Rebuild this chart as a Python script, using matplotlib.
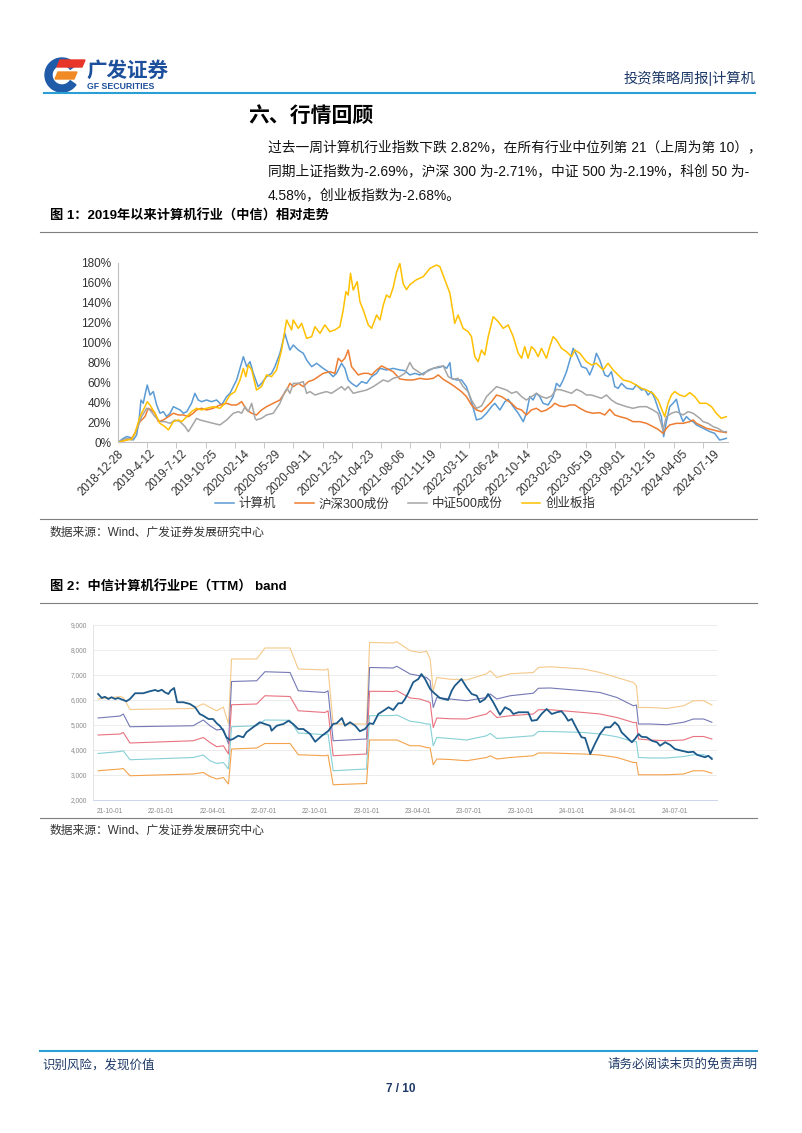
import matplotlib
matplotlib.use('Agg')
import matplotlib.pyplot as plt
import matplotlib.patches as mpatches
from matplotlib.ticker import FuncFormatter

plt.rcParams['font.family'] = ['Liberation Sans', 'Noto Sans CJK SC']
plt.rcParams['axes.unicode_minus'] = False

W, H = 802, 1133

# ---------------- chart 1 data (weekly index, % change since 2018-12-28) ----------------
date_labels = ['2018-12-28', '2019-4-12', '2019-7-12', '2019-10-25', '2020-02-14', '2020-05-29',
               '2020-09-11', '2020-12-31', '2021-04-23', '2021-08-06', '2021-11-19', '2022-03-11',
               '2022-06-24', '2022-10-14', '2023-02-03', '2023-05-19', '2023-09-01', '2023-12-15',
               '2024-04-05', '2024-07-19']

blue_x = [0, 2.6, 4.1, 5.7, 7.3, 8.9, 10.0, 11.0, 12.1, 12.9,
          14.0, 15.3, 16.9, 18.5, 20.1, 21.7, 23.3, 24.9, 26.5, 28.1,
          29.7, 31.3, 32.9, 35.2, 36.8, 38.4, 40.0, 42.4, 44.8, 47.2,
          49.6, 52.0, 53.6, 55.2, 56.8, 60.0, 61.6, 63.2, 64.8, 67.1,
          68.7, 71.1, 73.5, 75.1, 77.5, 79.9, 81.0, 82.3, 83.9, 86.3,
          88.7, 90.3, 92.7, 95.1, 98.2, 100.6, 103.0, 104.6, 107.0, 108.6,
          110.2, 111.8, 114.2, 116.6, 119.0, 121.4, 123.8, 125.4, 128.5, 131.7,
          134.9, 137.3, 139.7, 142.1, 144.5, 147.7, 150.9, 154.1, 155.7, 157.3,
          158.9, 159.7, 162.0, 164.4, 166.8, 169.2, 171.6, 174.0, 176.4, 178.8,
          180.4, 182.8, 185.2, 186.8, 189.2, 191.6, 194.0, 195.5, 197.1, 198.7,
          200.3, 201.9, 203.5, 205.9, 208.3, 209.9, 211.5, 213.1, 214.7, 216.3,
          217.9, 219.5, 221.9, 224.2, 225.8, 227.4, 229.0, 230.6, 233.0, 234.6,
          236.2, 237.8, 239.4, 241.0, 243.4, 246.5, 248.1, 250.6, 252.2, 253.7,
          255.3, 256.9, 258.5, 260.1, 261.2, 262.5, 264.1, 265.7, 267.3, 268.9,
          270.5, 272.1, 273.7, 275.3, 276.9, 278.5, 280.1, 281.7, 283.3, 285.6,
          288.0, 289.6, 291.2]
blue_v = [0, 4, 5.7, 5, 2.3, 7.3, 20.7, 42.4, 39.1, 47.4,
          57.4, 47.4, 50.8, 37.4, 29.1, 30.7, 25.7, 29.1, 35.7, 34.1,
          32.4, 29.1, 30.7, 39.1, 49.1, 42.4, 40.7, 42.4, 40.7, 42.4,
          37.4, 45.8, 49.1, 55.8, 62.5, 85.8, 75.8, 80.8, 69.1, 55.8,
          59.1, 65.8, 69.1, 75.8, 89.2, 109.2, 100.9, 92.5, 97.5, 92.5,
          89.2, 82.5, 75.8, 79.2, 74.1, 70.8, 65.8, 69.1, 79.2, 74.1,
          62.5, 59.1, 55.8, 60.8, 59.1, 65.8, 69.1, 74.1, 72.5, 74.1,
          72.5, 71.8, 67.5, 69.1, 67.5, 70.8, 74.1, 75.2, 76.5, 74.1,
          79.8, 64.1, 62.5, 62.5, 55.8, 40.7, 22.4, 24, 29.1, 35.7,
          39.1, 32.4, 40.7, 43.1, 35.7, 29.1, 20.7, 29.1, 45.8, 42.4,
          49.1, 45.8, 39.1, 37.4, 45.8, 59.1, 55.8, 62.5, 70.8, 82.5,
          94.2, 87.5, 75.8, 74.1, 67.5, 75.8, 89.2, 82.5, 67.5, 65.8,
          70.8, 55.8, 54.1, 59.1, 54.1, 53.1, 57.4, 52.4, 53.1, 47.4,
          50.8, 44.1, 34.1, 25.7, 5.7, 20.7, 35.7, 39.1, 43.1, 29.1,
          20.7, 25.7, 22.4, 20.7, 17.4, 15.7, 14, 12.4, 10.7, 9,
          2.3, 3, 4]

orange_x = [0, 4.1, 6.5, 8.1, 10.5, 12.9, 14.5, 16.1, 17.7, 19.3,
            21.7, 24.1, 26.5, 28.9, 31.3, 33.7, 36.0, 37.6, 40.0, 42.4,
            45.6, 48.8, 52.0, 54.4, 56.8, 59.2, 61.6, 64.0, 66.3, 68.7,
            71.1, 74.3, 77.5, 80.7, 82.3, 83.9, 86.3, 88.7, 91.1, 93.5,
            95.9, 98.2, 101.4, 103.8, 105.4, 107.0, 108.6, 110.2, 111.8, 115.0,
            117.4, 119.8, 121.4, 123.8, 126.2, 128.5, 131.7, 134.9, 138.1, 141.3,
            144.5, 147.7, 150.9, 153.3, 155.7, 158.9, 161.2, 164.4, 166.8, 169.2,
            171.6, 174.0, 176.4, 178.8, 181.2, 183.6, 186.0, 188.4, 190.8, 193.2,
            195.5, 197.9, 200.3, 202.7, 205.1, 207.5, 209.1, 211.5, 213.9, 216.3,
            218.7, 221.1, 224.2, 227.4, 230.6, 233.0, 235.4, 237.8, 240.2, 243.4,
            246.5, 249.8, 253.0, 256.1, 258.5, 260.9, 262.5, 264.1, 267.3, 270.5,
            273.7, 275.3, 276.9, 278.5, 281.7, 284.9, 288.0, 291.2]
orange_v = [0, 2.3, 4, 9, 20.7, 25.7, 34.1, 32.4, 29.1, 20.7,
            22.4, 25.7, 29.1, 27.4, 27.4, 25.7, 29.1, 32.4, 34.1, 32.4,
            34.1, 37.4, 39.1, 37.4, 37.4, 40.7, 32.4, 29.1, 27.4, 32.4,
            35.7, 39.1, 42.4, 52.4, 59.1, 55.8, 59.1, 55.8, 60.8, 62.5,
            65.8, 69.1, 70.8, 69.1, 84.2, 80.8, 84.2, 92.5, 75.8, 67.5,
            69.1, 69.1, 67.5, 72.5, 76.5, 74.1, 70.8, 63.5, 62.5, 62.5,
            64.1, 63.1, 64.1, 67.5, 63.1, 59.1, 55.8, 50.8, 45.8, 37.4,
            32.4, 30.7, 35.7, 40.7, 47.4, 45.8, 42.4, 39.1, 34.1, 32.4,
            27.4, 32.4, 34.1, 30.7, 32.4, 35.7, 39.1, 36.4, 35.7, 37.4,
            37.4, 34.1, 30.7, 29.1, 29.7, 27.4, 33.1, 27.4, 25.7, 24,
            20.7, 20.7, 19, 15.7, 13, 9, 14, 17.4, 19, 19,
            20.7, 22.4, 19, 17.4, 14, 12.4, 10.7, 9.7]

gray_x = [0, 4.1, 6.5, 8.9, 11.3, 13.7, 15.3, 17.7, 20.1, 22.5,
          24.9, 27.3, 29.7, 32.1, 33.7, 35.2, 37.6, 39.2, 42.4, 45.6,
          48.8, 52.0, 55.2, 57.6, 59.2, 60.8, 62.4, 64.0, 65.6, 66.3,
          68.7, 71.1, 74.3, 77.5, 79.9, 81.0, 82.3, 83.9, 86.3, 88.7,
          90.3, 91.9, 94.3, 96.7, 99.8, 102.2, 104.6, 107.0, 108.6, 110.2,
          112.6, 115.8, 119.0, 122.2, 124.6, 127.0, 129.3, 131.7, 134.9, 137.3,
          139.7, 141.3, 143.7, 146.1, 148.5, 150.9, 153.3, 155.7, 158.1, 160.5,
          162.8, 165.2, 167.6, 169.2, 171.6, 174.0, 176.4, 178.8, 181.2, 183.6,
          186.0, 188.4, 190.8, 193.2, 195.5, 197.9, 200.3, 202.7, 205.1, 207.5,
          209.9, 212.3, 214.7, 217.1, 219.5, 221.9, 224.2, 226.6, 229.0, 231.4,
          233.8, 236.2, 238.6, 241.0, 243.4, 246.5, 249.8, 253.0, 256.1, 258.5,
          260.9, 262.5, 264.9, 267.3, 270.5, 272.9, 275.3, 278.5, 280.1, 282.5,
          284.9, 287.2, 289.6, 291.2]
gray_v = [0, 4, 2.3, 12.4, 25.7, 34.1, 32.4, 25.7, 20.7, 20.7,
          19, 22.4, 20.7, 15.7, 10.7, 15.7, 24, 22.4, 20.7, 19,
          17.4, 22.4, 29.1, 30.7, 29.1, 35.7, 30.7, 39.1, 24, 22.4,
          24, 27.4, 29.1, 39.1, 50.8, 54.1, 49.1, 59.1, 59.1, 60.8,
          49.1, 50.8, 47.4, 49.1, 50.8, 49.1, 52.4, 55.8, 52.4, 55.8,
          49.1, 50.8, 52.4, 55.8, 59.1, 62.5, 60.8, 64.1, 66, 69.1,
          80, 74.1, 70.8, 67.5, 72.5, 74.1, 75.8, 76.5, 65.8, 63.1,
          64.1, 55.8, 50.8, 42.4, 34.1, 36.4, 45.8, 50.8, 55.8, 54.1,
          52.4, 49.1, 50.8, 45.8, 42.4, 45.8, 49.1, 45.8, 44.1, 46.4,
          53.1, 52.4, 50.8, 49.1, 53.1, 50.8, 47.4, 47.4, 45.8, 44.1,
          47.4, 42.4, 39.1, 37.4, 35.7, 34.1, 35.7, 35.7, 32.4, 29.1,
          12.4, 25.7, 29.1, 30.7, 27.4, 30.7, 29.1, 24, 20.7, 19,
          15.7, 14, 10.7, 10.7]

yellow_x = [0, 4.1, 6.5, 8.1, 10.5, 12.9, 14.0, 15.3, 17.7, 20.1,
            22.5, 24.1, 26.5, 28.9, 30.5, 32.9, 35.2, 37.6, 40.0, 42.4,
            45.6, 48.8, 51.2, 53.6, 56.0, 58.4, 60.0, 61.2, 62.4, 64.0,
            66.3, 68.7, 71.1, 73.5, 75.9, 78.3, 80.7, 83.1, 83.9, 86.3,
            87.9, 90.3, 92.7, 94.3, 96.7, 99.0, 101.4, 103.8, 106.2, 107.8,
            109.1, 110.2, 111.3, 112.6, 114.5, 115.8, 117.4, 119.8, 121.4, 123.8,
            125.4, 127.0, 128.5, 130.1, 131.7, 133.3, 134.9, 136.5, 138.1, 139.7,
            142.9, 146.1, 149.3, 150.9, 152.5, 154.1, 156.5, 158.9, 161.2, 162.8,
            165.2, 167.6, 169.2, 170.8, 172.4, 174.0, 175.6, 177.2, 179.6, 182.0,
            184.4, 186.8, 189.2, 191.6, 193.2, 194.7, 196.3, 197.9, 199.5, 201.1,
            202.7, 205.1, 206.7, 208.3, 209.9, 212.3, 214.7, 217.1, 218.7, 221.1,
            224.2, 226.6, 229.0, 232.2, 234.6, 237.0, 239.4, 241.8, 245.0, 248.1,
            250.6, 253.0, 256.1, 258.5, 260.1, 261.7, 263.3, 264.9, 266.5, 268.9,
            271.3, 273.7, 276.1, 278.5, 281.7, 284.1, 286.4, 288.8, 291.2]
yellow_v = [0, 2.3, 3, 9, 25.7, 35.7, 40.7, 37.4, 29.1, 19,
            15.7, 12.4, 20.7, 22.4, 20.7, 25.7, 30.7, 34.1, 32.4, 34.1,
            35.7, 34.1, 39.1, 47.4, 50.8, 62.5, 74.1, 65.8, 77.5, 72.5,
            52.4, 55.8, 67.5, 65.8, 72.5, 92.5, 122.6, 112.6, 122.6, 114.2,
            119.2, 104.2, 105.9, 115.9, 109.2, 117.6, 110.9, 112.6, 115.9, 132.6,
            151, 147.6, 169.3, 152.6, 161, 141, 132.6, 117.6, 114.2, 127.6,
            122.6, 137.6, 147.6, 145, 155, 170, 179.4, 159, 153, 158,
            163, 166, 174.3, 176, 177.7, 176, 162.7, 149.3, 119.2, 127.6,
            114.2, 110.9, 105.9, 85.8, 80.8, 92.5, 87.5, 105.9, 125.9, 120.9,
            114.2, 117.6, 105.9, 89.2, 84.2, 95.9, 84.2, 95.9, 92.5, 85.8,
            94.2, 84.2, 95.9, 105.9, 102.5, 94.2, 90.8, 85.8, 92.5, 89.2,
            80.8, 77.5, 79.2, 72.5, 79.2, 72.5, 67.5, 62.5, 60.8, 57.4,
            54.1, 52.4, 49.1, 42.4, 34.1, 25.7, 39.1, 47.4, 50.8, 47.4,
            45.8, 49.8, 45.8, 39.1, 39.1, 35.7, 29.1, 24, 25.7]

# ---------------- chart 2 data (quarter index, 0 = 21-10-01) ----------------
quarter_labels = ['21-10-01', '22-01-01', '22-04-01', '22-07-01', '22-10-01', '23-01-01',
                  '23-04-01', '23-07-01', '23-10-01', '24-01-01', '24-04-01', '24-07-01']

band_x = [-0.23, 0.20, 0.26, 0.39, 1.62, 1.82, 1.95, 2.08, 2.21, 2.31,
          2.37, 2.86, 3.02, 3.51, 3.67, 4.19, 4.25, 4.35, 5.00, 5.06,
          5.52, 5.59, 5.85, 6.04, 6.17, 6.24, 6.30, 6.37, 6.63, 6.95,
          7.34, 7.41, 7.54, 7.80, 8.25, 8.35, 8.58, 9.23, 9.55, 9.88,
          10.20, 10.26, 10.30, 10.53, 10.85, 11.18, 11.37, 11.57, 11.73]
band_1 = [6040, 6140, 6100, 5620, 5660, 5850, 5700, 5570, 5720, 5050,
          7640, 7640, 8080, 8080, 7240, 7200, 7250, 5040, 5040, 8300,
          8280, 8330, 7970, 7900, 7950, 7640, 6370, 6900, 6830, 6800,
          7050, 7170, 6900, 7050, 7100, 7300, 7330, 7240, 7100, 6900,
          6700, 6570, 5700, 5700, 5660, 5770, 5970, 5970, 5800]
band_2 = [5280, 5360, 5440, 4930, 4970, 5200, 4970, 4800, 4840, 4240,
          6740, 6770, 7130, 7100, 6370, 6300, 6370, 4370, 4440, 7300,
          7280, 7350, 7040, 6970, 6900, 6770, 5700, 6100, 6040, 5970,
          6100, 6240, 6040, 6170, 6270, 6470, 6480, 6370, 6300, 6100,
          5770, 5800, 5040, 5040, 5010, 5110, 5240, 5240, 5110]
band_3 = [4600, 4640, 4700, 4280, 4370, 4500, 4300, 4130, 4170, 3840,
          5810, 5840, 6170, 6140, 5570, 5500, 5570, 3770, 3840, 6350,
          6340, 6370, 6080, 6040, 5950, 5900, 4900, 5280, 5250, 5240,
          5440, 5570, 5300, 5370, 5440, 5610, 5610, 5500, 5440, 5300,
          5100, 5100, 4440, 4400, 4370, 4400, 4540, 4540, 4440]
band_4 = [3860, 3940, 3970, 3610, 3700, 3800, 3570, 3460, 3500, 3240,
          4930, 4970, 5200, 5190, 4680, 4610, 4650, 3170, 3240, 5370,
          5380, 5400, 5150, 5100, 5040, 5040, 4170, 4500, 4460, 4400,
          4570, 4660, 4460, 4500, 4570, 4740, 4740, 4700, 4640, 4530,
          4330, 4330, 3700, 3680, 3680, 3740, 3810, 3810, 3700]
band_5 = [3170, 3240, 3260, 2970, 3040, 3100, 2940, 2840, 2900, 2640,
          4040, 4080, 4260, 4260, 3810, 3770, 3800, 2610, 2660, 4400,
          4400, 4400, 4170, 4170, 4100, 4080, 3410, 3640, 3620, 3570,
          3700, 3770, 3640, 3700, 3770, 3880, 3880, 3840, 3800, 3700,
          3500, 3500, 3010, 3010, 3010, 3040, 3170, 3170, 3070]

pe_x = [-0.23, -0.16, -0.10, -0.03, 0.03, 0.10, 0.16, 0.26, 0.32, 0.39,
        0.49, 0.65, 0.78, 0.88, 0.94, 1.01, 1.07, 1.14, 1.18, 1.25,
        1.31, 1.43, 1.56, 1.66, 1.75, 1.82, 1.92, 2.01, 2.08, 2.14,
        2.21, 2.27, 2.34, 2.40, 2.50, 2.60, 2.66, 2.79, 2.92, 3.02,
        3.12, 3.15, 3.25, 3.38, 3.48, 3.57, 3.67, 3.77, 3.90, 4.00,
        4.13, 4.26, 4.35, 4.42, 4.52, 4.58, 4.68, 4.78, 4.87, 4.97,
        5.06, 5.13, 5.23, 5.33, 5.43, 5.52, 5.62, 5.69, 5.75, 5.82,
        5.91, 6.01, 6.07, 6.14, 6.24, 6.30, 6.43, 6.59, 6.66, 6.72,
        6.85, 6.95, 7.05, 7.15, 7.21, 7.31, 7.37, 7.47, 7.60, 7.70,
        7.80, 7.86, 7.96, 8.15, 8.22, 8.32, 8.41, 8.51, 8.61, 8.71,
        8.80, 8.87, 8.93, 9.00, 9.10, 9.19, 9.26, 9.36, 9.45, 9.55,
        9.65, 9.75, 9.84, 9.91, 9.97, 10.07, 10.17, 10.23, 10.30, 10.36,
        10.46, 10.56, 10.66, 10.72, 10.82, 10.92, 11.01, 11.14, 11.27, 11.37,
        11.44, 11.53, 11.60, 11.66, 11.73]
pe_v = [6240, 6080, 6130, 6040, 6110, 6040, 6080, 6000, 5950, 6040,
        6270, 6270, 6350, 6400, 6350, 6410, 6310, 6240, 6370, 6480,
        5910, 5910, 5840, 5710, 5440, 5370, 5240, 5240, 5070, 4970,
        4770, 4510, 4400, 4440, 4570, 4510, 4710, 4910, 5110, 5040,
        4970, 4770, 4970, 5040, 5170, 5040, 4840, 4840, 4640, 4330,
        4570, 4770, 5040, 5070, 5280, 4970, 5110, 4970, 4750, 4840,
        5070, 5040, 5440, 5570, 5710, 5600, 5870, 5870, 6040, 6310,
        6710, 6840, 7040, 6840, 6440, 6310, 6080, 6000, 6370, 6570,
        6840, 6510, 6240, 6170, 5910, 6040, 6240, 5910, 5410, 5710,
        5600, 5440, 5510, 5510, 5170, 5200, 5440, 5640, 5440, 5510,
        5550, 5370, 5170, 5240, 4840, 4510, 4480, 3840, 4240, 4640,
        4910, 4910, 5110, 4970, 4710, 4510, 4310, 4440, 4640, 4530,
        4510, 4370, 4310, 4170, 4310, 4200, 4040, 3970, 3910, 3930,
        3810, 3750, 3710, 3770, 3640]

NAVY = '#1f3a68'
fig = plt.figure(figsize=(W / 100, H / 100), dpi=100)

# page layer in pixel coordinates
page = fig.add_axes([0, 0, 1, 1])
page.set_xlim(0, W)
page.set_ylim(H, 0)
page.axis('off')


def px_axes(l, t, r, b):
    return fig.add_axes([l / W, 1 - b / H, (r - l) / W, (b - t) / H])


# logo
page.add_patch(mpatches.Wedge((62, 75), 17, 35, 325, width=7, color='#1f5ba8'))
page.add_patch(mpatches.Polygon([(60, 60), (85, 60), (82, 67), (57, 67)], color='#e8352a'))
page.add_patch(mpatches.Polygon([(58, 72), (77, 72), (74, 79), (55, 79)], color='#f08a24'))
page.text(86, 71, '广发证券', fontsize=14.8, fontweight='bold', color='#1c4f9c', va='center', ha='left')
page.text(87, 86.5, 'GF SECURITIES', fontsize=6.3, fontweight='bold', color='#1c4f9c', va='center', ha='left')
page.text(755, 78, '投资策略周报|计算机', fontsize=10.3, color=NAVY, va='center', ha='right')
page.plot([44, 755], [93, 93], color='#2a9fd6', lw=1.5)

# section text
page.text(248, 116, '六、行情回顾', fontsize=15, fontweight='bold', va='center')
para = ['过去一周计算机行业指数下跌 2.82%，在所有行业中位列第 21（上周为第 10），',
        '同期上证指数为-2.69%，沪深 300 为-2.71%，中证 500 为-2.19%，科创 50 为-',
        '4.58%，创业板指数为-2.68%。']
for k, line in enumerate(para):
    page.text(268, 147 + 24 * k, line, fontsize=9.9, va='center', ha='left', color='#111111')

# figure captions and rules
page.text(50, 216, '图 1：2019年以来计算机行业（中信）相对走势', fontsize=9.5, fontweight='bold', va='center')
page.plot([40, 757], [232, 232], color='#7f7f7f', lw=0.8)
page.plot([40, 757], [519, 519], color='#7f7f7f', lw=0.8)
page.text(50, 533, '数据来源：Wind、广发证券发展研究中心', fontsize=8.5, color='#333333', va='center')

page.text(50, 587, '图 2：中信计算机行业PE（TTM） band', fontsize=9.5, fontweight='bold', va='center')
page.plot([40, 757], [603, 603], color='#7f7f7f', lw=0.8)
page.plot([40, 757], [818, 818], color='#7f7f7f', lw=0.8)
page.text(50, 831, '数据来源：Wind、广发证券发展研究中心', fontsize=8.5, color='#333333', va='center')

# footer
page.plot([40, 757], [1051, 1051], color='#2a9fd6', lw=1.5)
page.text(42, 1065, '识别风险，发现价值', fontsize=9, color=NAVY, va='center', ha='left')
page.text(757, 1065, '请务必阅读末页的免责声明', fontsize=9, color=NAVY, va='center', ha='right')
page.text(401, 1089, '7 / 10', fontsize=8.5, fontweight='bold', color=NAVY, va='center', ha='center')

# ---------------- chart 1 ----------------
ax1 = px_axes(118, 262.7, 728, 442.3)
ax1.plot(blue_x, blue_v, color='#5b9bd5', lw=1.1, label='计算机')
ax1.plot(orange_x, orange_v, color='#ed7d31', lw=1.1, label='沪深300成份')
ax1.plot(gray_x, gray_v, color='#a5a5a5', lw=1.1, label='中证500成份')
ax1.plot(yellow_x, yellow_v, color='#ffc000', lw=1.1, label='创业板指')
ax1.set_xlim(0, 292)
ax1.set_ylim(0, 180)
ax1.set_yticks(range(0, 181, 20))
ax1.set_yticklabels([f'{v}%' for v in range(0, 181, 20)], fontsize=8.5, color='#333333')
ax1.set_xticks([15 * k for k in range(len(date_labels))])
ax1.set_xticklabels(date_labels, rotation=45, ha='right', rotation_mode='anchor',
                    fontsize=8.3, color='#333333')
ax1.set_xticks(range(0, 281, 14), minor=True)
ax1.tick_params(axis='x', which='major', length=0, pad=4)
ax1.tick_params(axis='x', which='minor', length=4, color='#bfbfbf')
ax1.tick_params(axis='y', length=0, pad=5)
for s in ['top', 'right']:
    ax1.spines[s].set_visible(False)
for s in ['left', 'bottom']:
    ax1.spines[s].set_color('#bfbfbf')
    ax1.spines[s].set_linewidth(0.8)
ax1.patch.set_alpha(0)
ax1.legend(loc='center', bbox_to_anchor=(405 / W, 1 - 504 / H), bbox_transform=fig.transFigure,
           ncol=4, frameon=False, fontsize=9, handlelength=1.5, handletextpad=0.4,
           columnspacing=1.5, labelcolor='#333333')

# ---------------- chart 2 ----------------
ax2 = px_axes(93, 625, 717, 800)
ax2.plot(band_x, band_1, color='#f5c98a', lw=0.8)
ax2.plot(band_x, band_2, color='#7479b5', lw=0.8)
ax2.plot(band_x, band_3, color='#e8727f', lw=0.8)
ax2.plot(band_x, band_4, color='#86d0d6', lw=0.8)
ax2.plot(band_x, band_5, color='#f4a24b', lw=0.8)
ax2.plot(pe_x, pe_v, color='#1d5a8a', lw=1.3)
ax2.set_xlim(-0.33, 11.83)
ax2.set_ylim(2000, 9000)
ax2.set_yticks(range(2000, 9001, 1000))
ax2.yaxis.set_major_formatter(FuncFormatter(lambda v, p: f'{v:,.0f}'))
ax2.set_xticks(range(len(quarter_labels)))
ax2.set_xticklabels(quarter_labels)
ax2.tick_params(axis='both', length=0, labelsize=4.8, labelcolor='#8a8a8a')
ax2.tick_params(axis='x', pad=6)
ax2.tick_params(axis='y', pad=4)
ax2.grid(axis='y', color='#ececec', lw=0.7)
ax2.set_axisbelow(True)
for s in ['top', 'right']:
    ax2.spines[s].set_visible(False)
ax2.spines['left'].set_color('#e3e3e3')
ax2.spines['bottom'].set_color('#ccd6eb')
ax2.spines['left'].set_linewidth(0.7)
ax2.spines['bottom'].set_linewidth(0.7)
ax2.patch.set_alpha(0)

fig.savefig('out.png', dpi=100)
